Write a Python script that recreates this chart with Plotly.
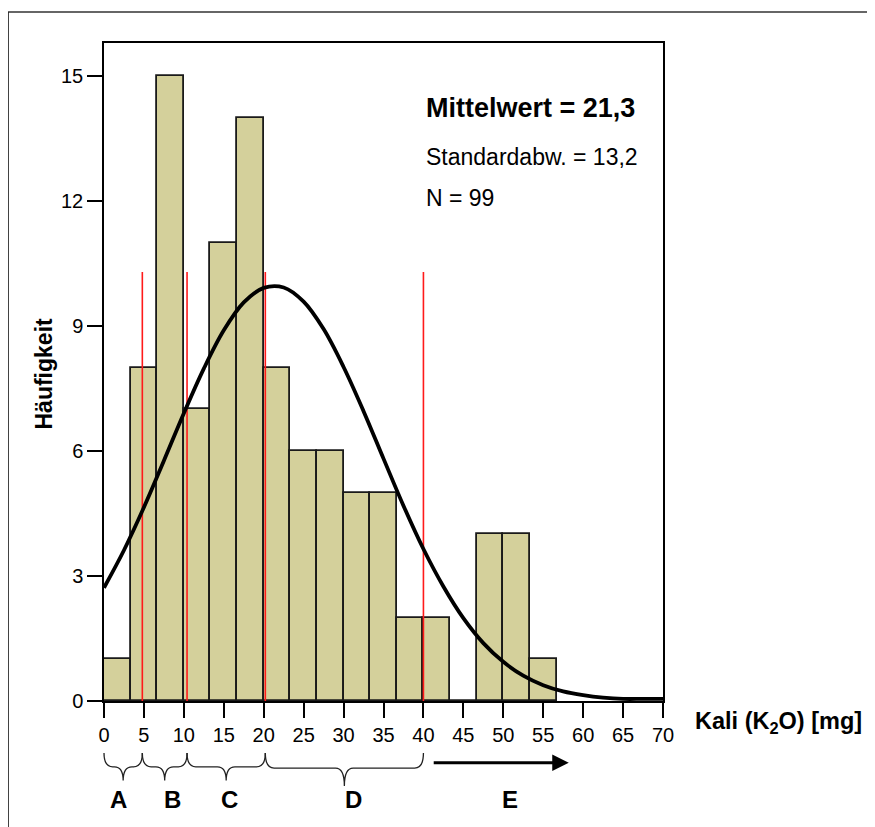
import plotly.graph_objects as go

# histogram counts, bins of width 10/3 starting at 0
bin_width = 10 / 3
counts = [1, 8, 15, 7, 11, 14, 8, 6, 6, 5, 5, 2, 2, 0, 4, 4, 1]

# fitted normal curve
curve_x = [0, 2.5, 5, 7.5, 10, 12.5, 15, 17.5, 20, 22.5, 25, 27.5, 30, 32.5, 35,
           37.5, 40, 42.5, 45, 47.5, 50, 52.5, 55, 57.5, 60, 62.5, 65, 67.5, 70]
curve_y = [2.72, 3.62, 4.65, 5.77, 6.91, 7.98, 8.9, 9.57, 9.92, 9.93, 9.59, 8.93, 8.02, 6.96, 5.82,
           4.69, 3.65, 2.75, 1.99, 1.39, 0.94, 0.61, 0.38, 0.23, 0.14, 0.08, 0.05, 0.05, 0.05]

# class limits (red lines) and class labels
limits = [4.8, 10.4, 20.2, 40.0]
limit_height = 10.3
groups = ["A", "B", "C", "D"]
group_bounds = [0, 4.8, 10.4, 20.2, 40.0]
label_x = [1.8, 8.6, 15.7, 31.2, 50.8]
label_text = ["A", "B", "C", "D", "E"]
arrow_from, arrow_to = 41.1, 58.2

stats = ["<b>Mittelwert = 21,3</b>", "Standardabw. = 13,2", "N = 99"]

XMAX = 70
YMAX = 15.8
FONT = "Liberation Sans, Arial, sans-serif"
PLOT_W = 559  # plot area width in px

centers = [bin_width * (i + 0.5) for i in range(len(counts))]

fig = go.Figure()
fig.add_trace(go.Bar(x=centers, y=counts, width=bin_width,
                     marker=dict(color="#d4d09b", line=dict(color="#1a1a1a", width=1.8))))

# red class limit lines
lx, ly = [], []
for v in limits:
    lx += [v, v, None]
    ly += [0, limit_height, None]
fig.add_trace(go.Scatter(x=lx, y=ly, mode="lines", line=dict(color="#ff1a1a", width=1.6)))

fig.add_trace(go.Scatter(x=curve_x, y=curve_y, mode="lines", line_shape="spline",
                         line=dict(color="black", width=3.8)))

# braces under the x axis (paper coordinates)
shapes = []
top, mid, tip = -0.079, -0.100, -0.121
r = 1.1 / XMAX
for i in range(len(groups)):
    x0 = group_bounds[i] / XMAX
    x1 = group_bounds[i + 1] / XMAX
    xm = (x0 + x1) / 2
    t = tip - (0.008 if i == 3 else 0)
    m = mid - (0.002 if i == 3 else 0)
    path = (f"M {x0},{top} Q {x0},{m} {x0 + r},{m} L {xm - r},{m} "
            f"Q {xm},{m} {xm},{t} Q {xm},{m} {xm + r},{m} L {x1 - r},{m} "
            f"Q {x1},{m} {x1},{top}")
    shapes.append(dict(type="path", path=path, xref="paper", yref="paper",
                       line=dict(color="#222", width=1.3)))

# outer frame (top and left edges visible)
shapes.append(dict(type="line", xref="paper", yref="paper", x0=-0.172, x1=1.4,
                   y0=1.047, y1=1.047, line=dict(color="#666", width=2)))
shapes.append(dict(type="line", xref="paper", yref="paper", x0=-0.172, x1=-0.172,
                   y0=1.047, y1=-0.2, line=dict(color="#222", width=2)))

annotations = []
stat_y = [0.901, 0.827, 0.764]
for i, s in enumerate(stats):
    annotations.append(dict(text=s, x=0.573, y=stat_y[i], xref="paper", yref="paper",
                            xanchor="left", yanchor="middle", showarrow=False,
                            font=dict(family=FONT, size=27 if i == 0 else 23, color="black")))
for x, t in zip(label_x, label_text):
    annotations.append(dict(text=f"<b>{t}</b>", x=x, y=-0.150, xref="x", yref="paper",
                            xanchor="center", yanchor="middle", showarrow=False,
                            font=dict(family=FONT, size=24, color="black")))
# arrow for class E
annotations.append(dict(x=arrow_to / XMAX, y=-0.094, xref="paper", yref="paper",
                        ax=-(arrow_to - arrow_from) / XMAX * PLOT_W, ay=0,
                        text="", showarrow=True, arrowhead=2,
                        arrowsize=1.1, arrowwidth=3, arrowcolor="black"))
annotations.append(dict(text="<b>Kali (K<sub>2</sub>O) [mg]</b>", x=1.053, y=-0.032,
                        xref="paper", yref="paper", xanchor="left", yanchor="middle",
                        showarrow=False, font=dict(family=FONT, size=23.5, color="black")))
annotations.append(dict(text="<b>Häufigkeit</b>", x=-0.107, y=0.498, xref="paper", yref="paper",
                        xanchor="center", yanchor="middle", textangle=-90, showarrow=False,
                        font=dict(family=FONT, size=23, color="black")))

# the page has an 8px body margin, so the figure is made 8px smaller and shifted
fig.update_layout(
    width=867, height=819,
    margin=dict(l=96, r=212, t=35, b=126),
    paper_bgcolor="white", plot_bgcolor="white",
    showlegend=False, bargap=0,
    font=dict(family=FONT, size=20, color="black"),
    shapes=shapes, annotations=annotations,
)
fig.update_xaxes(range=[0, XMAX], dtick=5, tick0=0, showgrid=False, zeroline=False,
                 showline=True, linecolor="black", linewidth=1.5, mirror=True,
                 ticks="outside", ticklen=15, tickwidth=1.5, tickcolor="black")
fig.update_yaxes(range=[0, YMAX], dtick=3, tick0=0, showgrid=False, zeroline=False,
                 showline=True, linecolor="black", linewidth=1.5, mirror=True,
                 ticks="outside", ticklen=15, tickwidth=1.5, tickcolor="black")

fig.write_html("out.html")
